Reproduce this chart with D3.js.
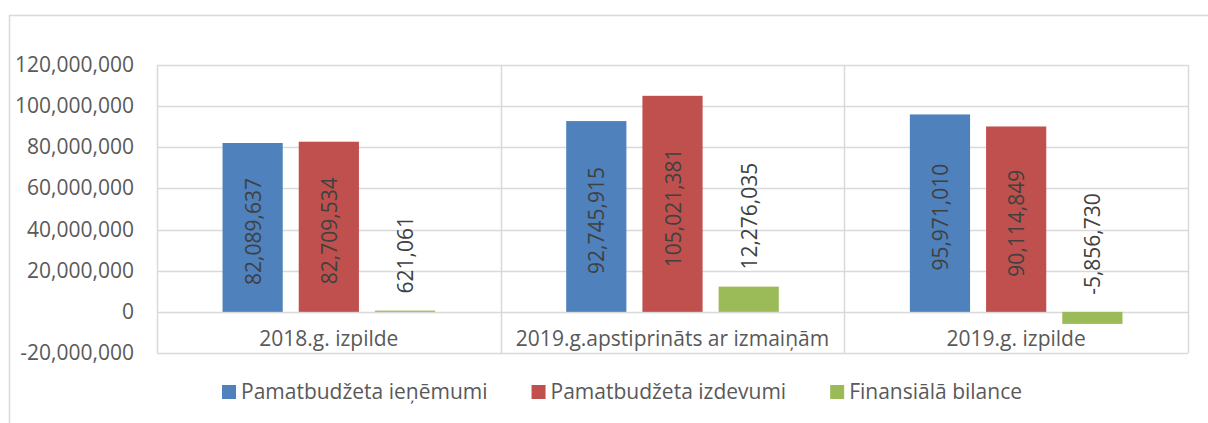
<!DOCTYPE html>
<html>
<head>
<meta charset="utf-8">
<script src="https://cdn.jsdelivr.net/npm/d3@7"></script>
<style>
  body { margin: 0; background: #fff; }
  text { font-family: 'Open Sans', sans-serif; }
</style>
</head>
<body>
<div id="chart"></div>
<script>
// chart data
const categories = ['2018.g. izpilde', '2019.g.apstiprināts ar izmaiņām', '2019.g. izpilde']
const seriesNames = ['Pamatbudžeta ieņēmumi', 'Pamatbudžeta izdevumi', 'Finansiālā bilance']
const ienemumi = [82089637, 92745915, 95971010]
const izdevumi = [82709534, 105021381, 90114849]
const bilance = [621061, 12276035, -5856730]
const yTicks = [-20000000, 0, 20000000, 40000000, 60000000, 80000000, 100000000, 120000000]

const colors = ['#4f81bd', '#c0504d', '#9bbb59']
const seriesValues = [ienemumi, izdevumi, bilance]

const W = 1208, H = 423
const plot = { left: 157, right: 1188, top: 65, bottom: 353 }
const fontSize = 21

const svg = d3.select('#chart')
  .append('svg')
  .attr('width', W)
  .attr('height', H)

// outer chart frame
svg.append('rect')
  .attr('x', 9.5)
  .attr('y', 15.5)
  .attr('width', 1222)
  .attr('height', 430)
  .attr('fill', 'none')
  .attr('stroke', '#d9d9d9')
  .attr('stroke-width', 1.5)

const y = d3.scaleLinear()
  .domain([-20000000, 120000000])
  .range([plot.bottom, plot.top])

const x0 = d3.scaleBand()
  .domain(categories)
  .range([plot.left, plot.right])

const x1 = d3.scaleBand()
  .domain(seriesNames)
  .range([0, x0.bandwidth()])
  .paddingInner(0.21)
  .paddingOuter(0.86)

// horizontal gridlines
svg.append('g')
  .selectAll('line')
  .data(yTicks)
  .join('line')
  .attr('x1', plot.left)
  .attr('x2', plot.right)
  .attr('y1', d => Math.round(y(d)) + 0.5)
  .attr('y2', d => Math.round(y(d)) + 0.5)
  .attr('stroke', '#d9d9d9')
  .attr('stroke-width', 1.5)

// vertical category separators
const sepX = [plot.left, ...categories.map(c => x0(c) + x0.bandwidth())]
svg.append('g')
  .selectAll('line')
  .data(sepX)
  .join('line')
  .attr('x1', d => Math.round(d) + 0.5)
  .attr('x2', d => Math.round(d) + 0.5)
  .attr('y1', plot.top)
  .attr('y2', plot.bottom)
  .attr('stroke', '#d9d9d9')
  .attr('stroke-width', 1.5)

// number format with plain hyphen for negatives
const fmt = d3.formatLocale({ decimal: '.', thousands: ',', grouping: [3], currency: ['', ''], minus: '-' }).format(',')

// y tick labels
svg.append('g')
  .selectAll('text')
  .data(yTicks)
  .join('text')
  .attr('x', 134)
  .attr('y', d => y(d) + 7)
  .attr('text-anchor', 'end')
  .attr('font-size', fontSize)
  .attr('fill', '#595959')
  .text(d => fmt(d))

// category labels
svg.append('g')
  .selectAll('text')
  .data(categories)
  .join('text')
  .attr('x', d => x0(d) + x0.bandwidth() / 2)
  .attr('y', 346)
  .attr('text-anchor', 'middle')
  .attr('font-size', fontSize)
  .attr('fill', '#595959')
  .text(d => d)

// bars
const bars = []
categories.forEach((c, i) => {
  seriesNames.forEach((s, j) => {
    bars.push({ cat: c, series: s, idx: j, value: seriesValues[j][i] })
  })
})

svg.append('g')
  .selectAll('rect')
  .data(bars)
  .join('rect')
  .attr('x', d => x0(d.cat) + x1(d.series))
  .attr('width', x1.bandwidth())
  .attr('y', d => y(Math.max(0, d.value)))
  .attr('height', d => Math.abs(y(d.value) - y(0)))
  .attr('fill', d => colors[d.idx])

// data labels (rotated)
svg.append('g')
  .selectAll('text')
  .data(bars)
  .join('text')
  .attr('transform', d => {
    const cx = x0(d.cat) + x1(d.series) + x1.bandwidth() / 2
    const cy = d.idx < 2 ? (y(d.value) + y(0)) / 2 + 4 : y(Math.max(0, d.value)) - 17
    return 'translate(' + cx + ',' + cy + ') rotate(-90)'
  })
  .attr('text-anchor', d => d.idx < 2 ? 'middle' : 'start')
  .attr('dominant-baseline', 'central')
  .attr('font-size', fontSize)
  .attr('fill', '#404040')
  .text(d => fmt(d.value))

// legend
const legend = svg.append('g')
  .attr('class', 'legend')
let lx = 222
seriesNames.forEach((s, j) => {
  legend.append('rect')
    .attr('x', lx)
    .attr('y', 385)
    .attr('width', 14)
    .attr('height', 14)
    .attr('fill', colors[j])
  const t = legend.append('text')
    .attr('x', lx + 19)
    .attr('y', 399)
    .attr('font-size', fontSize)
    .attr('fill', '#595959')
    .text(s)
  lx += 19 + t.node().getComputedTextLength() + 44
})
</script>
</body>
</html>
